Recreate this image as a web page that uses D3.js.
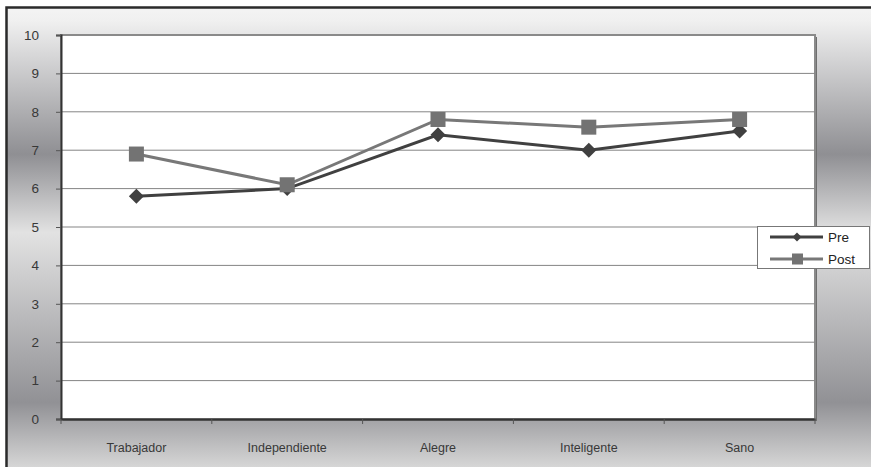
<!DOCTYPE html>
<html><head><meta charset="utf-8">
<script src="https://cdn.jsdelivr.net/npm/d3@7"></script>
<style>html,body{margin:0;padding:0;background:#fff;overflow:hidden}svg{display:block;font-family:"Liberation Sans",Arial,sans-serif}</style>
</head><body><svg id="c" width="871" height="467"></svg>
<script>
const categories = ["Trabajador","Independiente","Alegre","Inteligente","Sano"];
const preValues  = [5.8, 6.0, 7.4, 7.0, 7.5];
const postValues = [6.9, 6.1, 7.8, 7.6, 7.8];
const yTicks = [0,1,2,3,4,5,6,7,8,9,10];
const seriesNames = ["Pre","Post"];

const svg = d3.select("#c");
const W = 871, H = 467;
const m = {l:61, t:35, r:815, b:419};

// background gradient
const defs = svg.append("defs");
const g = defs.append("linearGradient").attr("id","bg").attr("x1",0).attr("y1",0).attr("x2",0).attr("y2",1);
[[0,"#f4f4f4"],[0.03,"#f0f0f0"],[0.32,"#8f8f93"],[0.49,"#e2e2e2"],[0.86,"#919195"],[1,"#d6d6d6"]]
  .forEach(([o,c])=>g.append("stop").attr("offset",o).attr("stop-color",c));
svg.append("rect").attr("x",0).attr("y",0).attr("width",W).attr("height",H).attr("fill","#fff");
svg.append("rect").attr("x",6).attr("y",7).attr("width",W-6).attr("height",H-7).attr("fill","url(#bg)");
// outer frame (left and top visible)
svg.append("path").attr("d",`M6.5,${H} V7.5 H${W}`).attr("fill","none").attr("stroke","#2a2a2a").attr("stroke-width",2.5);

const x = d3.scaleBand().domain(categories).range([m.l,m.r]).padding(0);
const y = d3.scaleLinear().domain([0,10]).range([m.b,m.t]);

// plot area shadow + fill
svg.append("rect").attr("x",m.l+2).attr("y",m.t+2).attr("width",m.r-m.l).attr("height",m.b-m.t).attr("fill","#6e6e6e");
svg.append("rect").attr("x",m.l).attr("y",m.t).attr("width",m.r-m.l).attr("height",m.b-m.t).attr("fill","#fff").attr("stroke","#8a8a8a").attr("stroke-width",2);

// gridlines
svg.append("g").selectAll("line").data(yTicks.filter(d=>d>0&&d<10)).join("line")
  .attr("x1",m.l).attr("x2",m.r).attr("y1",d=>y(d)).attr("y2",d=>y(d))
  .attr("stroke","#858585").attr("stroke-width",1);

// y axis
const yAxis = d3.axisLeft(y).tickValues(yTicks).tickSize(5).tickPadding(17).tickFormat(d3.format("d"));
const ya = svg.append("g").attr("transform",`translate(${m.l},0)`).call(yAxis);
ya.select(".domain").attr("stroke","#333").attr("stroke-width",2);
ya.selectAll(".tick line").attr("stroke","#555");
ya.selectAll(".tick text").attr("fill","#383838").attr("font-size",13.5).style("font-family","'Liberation Sans',Arial,sans-serif");

// x axis
const xa = svg.append("g").attr("transform",`translate(0,${m.b})`).call(d3.axisBottom(x).tickSize(0).tickPadding(24));
xa.select(".domain").attr("stroke","#333").attr("stroke-width",2);
xa.selectAll(".tick text").attr("fill","#383838").attr("font-size",12.5).style("font-family","'Liberation Sans',Arial,sans-serif");
// x tick marks at band boundaries
const bounds = categories.map(c=>x(c)).concat([x(categories[categories.length-1])+x.bandwidth()]);
svg.append("g").selectAll("line").data(bounds).join("line")
  .attr("x1",d=>d).attr("x2",d=>d).attr("y1",m.b).attr("y2",m.b+5).attr("stroke","#555").attr("stroke-width",1);

const cx = c => x(c)+x.bandwidth()/2;
const line = d3.line().x((d,i)=>cx(categories[i])).y(d=>y(d));

// Pre
svg.append("path").datum(preValues).attr("d",line).attr("fill","none").attr("stroke","#404040").attr("stroke-width",3);
svg.append("g").selectAll("path").data(preValues).join("path")
  .attr("transform",(d,i)=>`translate(${cx(categories[i])},${y(d)})`)
  .attr("d","M0,-7.5 L7.5,0 L0,7.5 L-7.5,0 Z").attr("fill","#404040");
// Post
svg.append("path").datum(postValues).attr("d",line).attr("fill","none").attr("stroke","#787878").attr("stroke-width",3);
svg.append("g").selectAll("rect").data(postValues).join("rect")
  .attr("x",(d,i)=>cx(categories[i])-7.5).attr("y",d=>y(d)-7.5).attr("width",15).attr("height",15).attr("fill","#737373");

// legend
const lg = svg.append("g");
lg.append("rect").attr("x",757.5).attr("y",226.5).attr("width",112).attr("height",42).attr("fill","#fff").attr("stroke","#777").attr("stroke-width",1);
const rows = [{n:seriesNames[0], y:237, c:"#404040"},{n:seriesNames[1], y:259, c:"#787878"}];
rows.forEach((r,i)=>{
  lg.append("line").attr("x1",770).attr("x2",823).attr("y1",r.y).attr("y2",r.y).attr("stroke",r.c).attr("stroke-width",3);
  if(i===0) lg.append("path").attr("transform",`translate(797,${r.y})`).attr("d","M0,-4.5 L4.5,0 L0,4.5 L-4.5,0 Z").attr("fill","#404040");
  else lg.append("rect").attr("x",792).attr("y",r.y-5.5).attr("width",11).attr("height",11).attr("fill","#737373");
  lg.append("text").attr("x",828).attr("y",r.y).attr("dy","0.36em").attr("font-size",13.5).attr("fill","#222").text(r.n);
});
</script></body></html>
